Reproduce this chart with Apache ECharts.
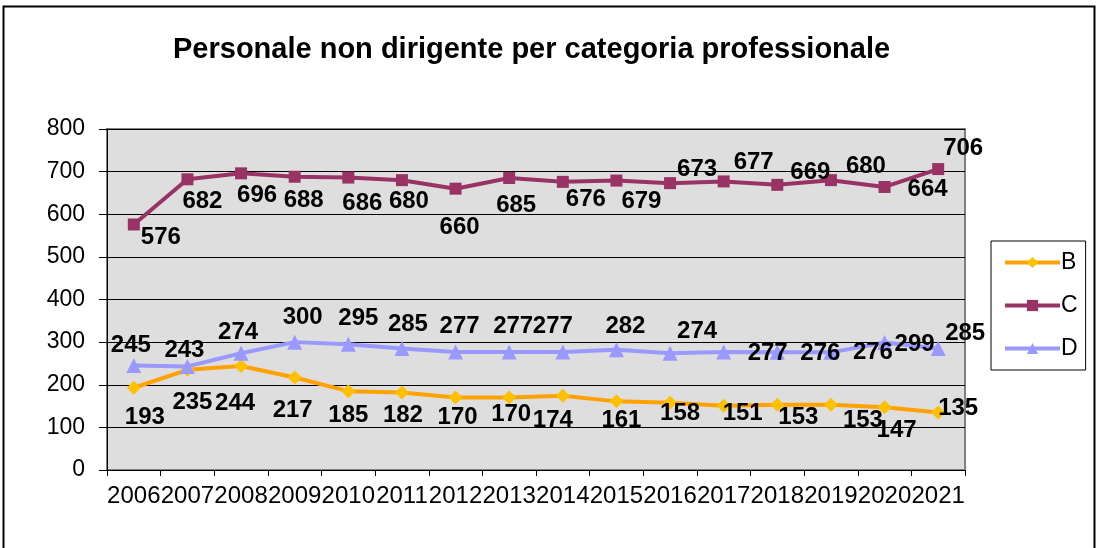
<!DOCTYPE html>
<html>
<head>
<meta charset="utf-8">
<script src="https://cdn.jsdelivr.net/npm/echarts@6/dist/echarts.min.js"></script>
<style>
  html, body { margin: 0; padding: 0; background: #fff; }
  #chart { width: 1099px; height: 548px; }
</style>
</head>
<body>
<div id="chart"></div>
<script>
// chart data
const years = ['2006', '2007', '2008', '2009', '2010', '2011', '2012', '2013',
  '2014', '2015', '2016', '2017', '2018', '2019', '2020', '2021'];
const valuesB = [193, 235, 244, 217, 185, 182, 170, 170, 174, 161, 158, 151, 153, 153, 147, 135];
const valuesC = [576, 682, 696, 688, 686, 680, 660, 685, 676, 679, 673, 677, 669, 680, 664, 706];
const valuesD = [245, 243, 274, 300, 295, 285, 277, 277, 277, 282, 274, 277, 276, 276, 299, 285];

// label placement as in the original (offset from the marker, px)
const offsetsB = [[11, 30], [5, 33], [-6, 37], [-2, 33], [0, 24], [1, 23], [2, 20], [2, 17],
  [-10, 25], [5, 19], [10, 11], [19, 8], [21, 13], [32, 16], [12, 23], [20, -4]];
const offsetsC = [[27, 13], [15, 22], [16, 22], [9, 24], [14, 26], [7, 21], [4, 39], [7, 27],
  [23, 18], [25, 21], [27, -14], [30, -19], [33, -12], [35, -14], [43, 2], [25, -21]];
const offsetsD = [[-3, -20], [-3, -16], [-3, -21], [8, -25], [10, -26], [6, -24], [4, -26], [4, -26],
  [-10, -26], [9, -23], [27, -22], [44, 1], [43, 1], [42, 0], [30, 2], [27, -15]];

const FONT = '"Liberation Sans", Arial, sans-serif';

function withOffsets(values, offsets) {
  return values.map((v, i) => ({ value: v, label: { offset: offsets[i] } }));
}

function makeSeries(name, values, offsets, lineColor, markColor, symbol, size) {
  return {
    name: name,
    type: 'line',
    data: withOffsets(values, offsets),
    symbol: symbol,
    symbolSize: size,
    lineStyle: { color: lineColor, width: 4 },
    itemStyle: { color: markColor },
    label: {
      show: true,
      position: 'inside',
      color: '#000',
      fontFamily: FONT,
      fontWeight: 'bold',
      fontSize: 24
    },
    emphasis: { disabled: true },
    animation: false
  };
}

const chart = echarts.init(document.getElementById('chart'));

chart.setOption({
  backgroundColor: '#fff',
  title: {
    text: 'Personale non dirigente per categoria professionale',
    left: 168,
    top: 30,
    textStyle: { fontFamily: FONT, fontWeight: 'bold', fontSize: 29, color: '#000' }
  },
  graphic: [{
    type: 'rect',
    shape: { x: 3.5, y: 6.5, width: 1091, height: 560 },
    style: { fill: 'none', stroke: '#000', lineWidth: 2 },
    silent: true
  }],
  legend: {
    orient: 'vertical',
    left: 991,
    top: 241,
    width: 100,
    padding: [10, 8, 10, 12],
    itemGap: 20,
    itemWidth: 55,
    itemHeight: 14,
    lineStyle: { width: 4 },
    borderColor: '#000',
    borderWidth: 1,
    backgroundColor: '#fff',
    textStyle: { fontFamily: FONT, fontSize: 23, color: '#000', padding: [0, 0, 0, -4] },
    data: ['B', 'C', 'D']
  },
  grid: {
    left: 107,
    top: 129,
    right: 134,
    bottom: 78,
    show: true,
    backgroundColor: '#dedede',
    borderColor: '#808080',
    borderWidth: 2
  },
  xAxis: {
    type: 'category',
    data: years,
    boundaryGap: true,
    axisLine: { lineStyle: { color: '#000', width: 1 } },
    axisTick: { show: true, length: 6, lineStyle: { color: '#000' } },
    axisLabel: {
      interval: 0,
      hideOverlap: false,
      margin: 14,
      color: '#000',
      fontFamily: FONT,
      fontSize: 24
    }
  },
  yAxis: {
    type: 'value',
    min: 0,
    max: 800,
    interval: 100,
    axisLine: { show: true, lineStyle: { color: '#000', width: 1 } },
    axisTick: { show: true, length: 8, lineStyle: { color: '#000' } },
    axisLabel: {
      margin: 22,
      color: '#000',
      fontFamily: FONT,
      fontSize: 23
    },
    splitLine: { show: true, lineStyle: { color: '#000', width: 1 } }
  },
  series: [
    makeSeries('B', valuesB, offsetsB, '#ffa200', '#ffc000', 'diamond', 14),
    makeSeries('C', valuesC, offsetsC, '#993366', '#993366', 'rect', 12),
    makeSeries('D', valuesD, offsetsD, '#9999ff', '#9999ff', 'triangle', 15)
  ]
});
</script>
</body>
</html>
